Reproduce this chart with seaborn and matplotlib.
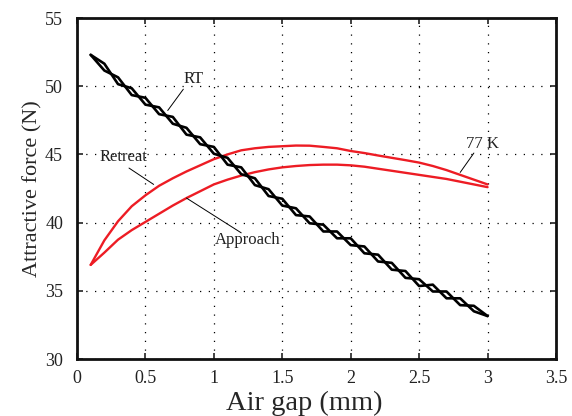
import matplotlib
matplotlib.use("Agg")
import matplotlib.pyplot as plt
import seaborn as sns

# Air gap (mm), sampled every 0.1 mm
gap = [0.1, 0.2, 0.3, 0.4, 0.5, 0.6, 0.7, 0.8, 0.9, 1.0,
       1.1, 1.2, 1.3, 1.4, 1.5, 1.6, 1.7, 1.8, 1.9, 2.0,
       2.1, 2.2, 2.3, 2.4, 2.5, 2.6, 2.7, 2.8, 2.9, 3.0]

# Room temperature: approach and retreat weave around each other
rt_approach = [52.3, 51.15, 50.65, 49.35, 49.15, 47.95, 47.75, 46.45, 46.25, 45.05,
               44.75, 43.55, 43.25, 41.95, 41.75, 40.55, 40.45, 39.35, 39.35, 38.35,
               38.25, 37.15, 37.05, 35.95, 35.85, 34.95, 34.95, 33.95, 33.9, 33.15]
rt_retreat = [52.3, 51.65, 50.15, 49.85, 48.65, 48.45, 47.25, 46.95, 45.75, 45.55,
              44.25, 44.05, 42.75, 42.45, 41.25, 41.05, 39.95, 39.85, 38.85, 38.85,
              37.75, 37.65, 36.55, 36.45, 35.35, 35.45, 34.45, 34.45, 33.5, 33.15]

# 77 K
k77_retreat = [36.9, 38.7, 40.1, 41.2, 42.0, 42.7, 43.25, 43.75, 44.2, 44.65,
               45.0, 45.3, 45.45, 45.55, 45.6, 45.65, 45.64, 45.55, 45.45, 45.25,
               45.1, 44.92, 44.75, 44.58, 44.4, 44.15, 43.85, 43.5, 43.15, 42.8]
k77_approach = [36.9, 37.8, 38.75, 39.45, 40.05, 40.65, 41.25, 41.8, 42.3, 42.8,
                43.15, 43.45, 43.7, 43.9, 44.05, 44.15, 44.22, 44.25, 44.25, 44.2,
                44.1, 43.95, 43.8, 43.65, 43.5, 43.35, 43.2, 43.0, 42.8, 42.6]

x_ticks = [0, 0.5, 1, 1.5, 2, 2.5, 3, 3.5]
x_labels = ['0', '0.5', '1', '1.5', '2', '2.5', '3', '3.5']
y_ticks = [30, 35, 40, 45, 50, 55]

sns.set_style("ticks")
plt.rcParams['font.family'] = ['Liberation Serif', 'DejaVu Serif']

fig = plt.figure(figsize=(5.72, 4.16), dpi=100)
ax = fig.add_axes([0.1346, 0.137, 0.8374, 0.8197])

red = '#ed1c24'
sns.lineplot(x=gap, y=k77_retreat, color=red, lw=1.7,
             estimator=None, sort=False, ax=ax)
sns.lineplot(x=gap, y=k77_approach, color=red, lw=1.7,
             estimator=None, sort=False, ax=ax)
sns.lineplot(x=gap, y=rt_approach, color='black', lw=1.9,
             estimator=None, sort=False, ax=ax)
sns.lineplot(x=gap, y=rt_retreat, color='black', lw=1.9,
             estimator=None, sort=False, ax=ax)

ax.set_xlim(0, 3.5)
ax.set_ylim(30, 55)
ax.set_xticks(x_ticks)
ax.set_xticklabels(x_labels)
ax.set_yticks(y_ticks)
ax.grid(True, color='black', linestyle=(0, (1, 6)), linewidth=0.9)
ax.tick_params(direction='in', length=4, width=1.2, top=True, right=True,
               labelsize=13, colors='#222222')
ax.tick_params(axis='x', pad=8)
ax.tick_params(axis='y', pad=10)
for s in ax.spines.values():
    s.set_linewidth(2)
    s.set_color('#111111')

ax.set_xlabel('Air gap (mm)', fontsize=20.5, labelpad=3, x=0.474)
ax.set_ylabel('Attractive force (N)', fontsize=16, labelpad=2)

# labels with leader lines
txt = dict(fontsize=12, color='#222222', ha='center', va='center')
ax.text(0.85, 50.5, 'RT', **txt)
ax.plot([0.777, 0.663], [49.78, 48.22], color='black', lw=0.7)
ax.text(0.34, 44.83, 'Retreat', **txt)
ax.plot([0.38, 0.56], [44.0, 42.8], color='black', lw=0.7)
ax.text(1.25, 38.7, 'Approach', **txt)
ax.plot([0.80, 1.20], [41.8, 39.25], color='black', lw=0.7)
ax.text(2.96, 45.75, '77 K', **txt)
ax.plot([2.90, 2.80], [45.1, 43.68], color='black', lw=0.7)

fig.savefig('out.png', dpi=100)
